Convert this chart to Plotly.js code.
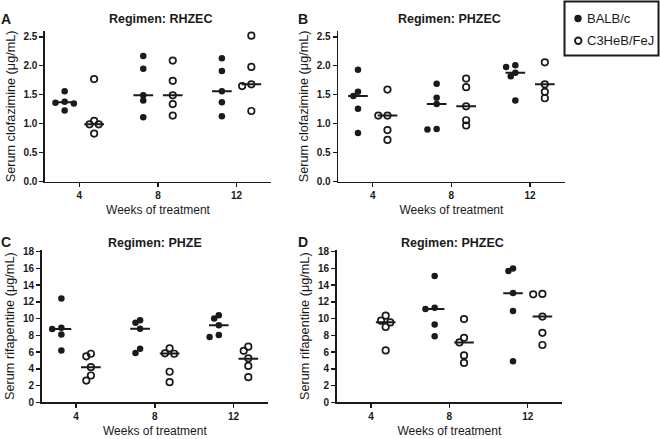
<!DOCTYPE html>
<html>
<head>
<meta charset="utf-8">
<script src="https://cdn.plot.ly/plotly-3.0.1.min.js"></script>
<style>html,body{margin:0;padding:0;background:#fff;}#chart{width:660px;height:439px;}</style>
</head>
<body>
<div id="chart"></div>
<script>
// ---------- data ----------
const weeks = [4, 8, 12];
const strainNames = ['BALB/c', 'C3HeB/FeJ'];

// Panel A: clofazimine, regimen RHZEC
const rhzecBalb = [[1.56, 1.38, 1.36, 1.35, 1.23], [2.17, 1.95, 1.49, 1.40, 1.11], [2.13, 1.91, 1.56, 1.37, 1.13]];
const rhzecC3   = [[1.77, 1.05, 0.99, 0.99, 0.83], [2.09, 1.74, 1.49, 1.34, 1.14], [2.52, 1.98, 1.68, 1.65, 1.22]];
const rhzecBalbMedian = [1.37, 1.49, 1.56];
const rhzecC3Median   = [0.99, 1.49, 1.68];

// Panel B: clofazimine, regimen PHZEC
const phzecClfBalb = [[1.93, 1.55, 1.48, 1.26, 0.84], [1.69, 1.45, 1.34, 0.91, 0.90], [2.01, 1.98, 1.88, 1.82, 1.40]];
const phzecClfC3   = [[1.59, 1.14, 1.14, 0.89, 0.72], [1.78, 1.63, 1.30, 1.06, 0.97], [2.06, 1.68, 1.55, 1.44]];
const phzecClfBalbMedian = [1.48, 1.34, 1.88];
const phzecClfC3Median   = [1.14, 1.30, 1.68];

// Panel C: rifapentine, regimen PHZE
const phzeBalb = [[12.4, 8.9, 8.76, 8.1, 6.2], [9.8, 9.5, 8.8, 6.4, 5.9], [10.4, 10.0, 9.2, 8.05, 7.8]];
const phzeC3   = [[5.8, 5.5, 4.2, 3.2, 2.6], [6.45, 5.85, 5.8, 3.65, 2.4], [6.65, 6.15, 5.25, 4.35, 3.0]];
const phzeBalbMedian = [8.76, 8.8, 9.2];
const phzeC3Median   = [4.2, 5.82, 5.2];

// Panel D: rifapentine, regimen PHZEC
const phzecRpfBalb = [[], [15.1, 11.3, 11.15, 9.3, 7.9], [16.0, 15.7, 13.05, 10.9, 4.9]];
const phzecRpfC3   = [[10.35, 9.75, 9.55, 9.0, 6.2], [9.95, 7.7, 7.15, 5.6, 4.7], [12.95, 12.9, 10.25, 8.3, 6.85]];
const phzecRpfBalbMedian = [null, 11.16, 13.04];
const phzecRpfC3Median   = [9.56, 7.16, 10.24];

// ---------- styling / layout ----------
const FONT = 'Liberation Sans, Arial, sans-serif';
const INK = '#1a1a1a';
const W = 660, H = 439;
const px = v => v / W;
const py = v => 1 - v / H;

const panels = [
  {letter: 'A', title: 'Regimen: RHZEC', ytitle: 'Serum clofazimine (μg/mL)', balb: rhzecBalb, c3: rhzecC3,
   balbMed: rhzecBalbMedian, c3Med: rhzecC3Median, xd: [45, 271], yd: [31, 181.7], yr: [0, 2.6], dtick: 0.5, fmt: '.1f',
   letterPos: [6.5, 18.5], titlePos: [160, 19]},
  {letter: 'B', title: 'Regimen: PHZEC', ytitle: 'Serum clofazimine (μg/mL)', balb: phzecClfBalb, c3: phzecClfC3,
   balbMed: phzecClfBalbMedian, c3Med: phzecClfC3Median, xd: [338.3, 564.5], yd: [31, 181.7], yr: [0, 2.6], dtick: 0.5, fmt: '.1f',
   letterPos: [303, 18.5], titlePos: [450, 19]},
  {letter: 'C', title: 'Regimen: PHZE', ytitle: 'Serum rifapentine (μg/mL)', balb: phzeBalb, c3: phzeC3,
   balbMed: phzeBalbMedian, c3Med: phzeC3Median, xd: [41.7, 268], yd: [250, 402.3], yr: [0, 18.2], dtick: 2, fmt: 'd',
   letterPos: [6.5, 242.5], titlePos: [155, 243]},
  {letter: 'D', title: 'Regimen: PHZEC', ytitle: 'Serum rifapentine (μg/mL)', balb: phzecRpfBalb, c3: phzecRpfC3,
   balbMed: phzecRpfBalbMedian, c3Med: phzecRpfC3Median, xd: [336.7, 562], yd: [250, 402.3], yr: [0, 18.2], dtick: 2, fmt: 'd',
   letterPos: [303, 242.5], titlePos: [452, 243]}
];

const XR = [2.25, 13.75];
const GROUP_OFFSET = 0.75;   // strains sit either side of each week
const MEDIAN_HALF = 0.5;

// simple beeswarm so overlapping points spread sideways (in pixels)
function swarm(vals, pxPerY, pxPerX) {
  const step = 4.6, minD = 5.2;
  const order = vals.map((v, i) => i).sort((a, b) => vals[b] - vals[a]);
  const placed = [];
  const off = new Array(vals.length).fill(0);
  order.forEach(i => {
    const yy = vals[i] * pxPerY;
    for (let k = 0; k < 30; k++) {
      const slot = k === 0 ? 0 : (k % 2 === 1 ? -Math.ceil(k / 2) : Math.ceil(k / 2));
      const xx = slot * step;
      if (placed.every(p => Math.hypot(p.x - xx, p.y - yy) >= minD)) {
        placed.push({x: xx, y: yy});
        off[i] = xx / pxPerX;
        break;
      }
    }
  });
  return off;
}

const traces = [];
const layout = {
  width: W, height: H,
  margin: {l: 0, r: 0, t: 0, b: 0},
  paper_bgcolor: '#fff', plot_bgcolor: '#fff',
  showlegend: false,
  font: {family: FONT, color: INK},
  annotations: [], shapes: []
};

panels.forEach((p, idx) => {
  const n = idx === 0 ? '' : String(idx + 1);
  const xa = 'x' + n, ya = 'y' + n;
  const pxPerX = (p.xd[1] - p.xd[0]) / (XR[1] - XR[0]);
  const pxPerY = (p.yd[1] - p.yd[0]) / (p.yr[1] - p.yr[0]);

  [[p.balb, p.balbMed, -1, 0], [p.c3, p.c3Med, 1, 1]].forEach(([groups, meds, side, s]) => {
    const xs = [], ys = [];
    const mx = [], my = [];
    groups.forEach((vals, w) => {
      const centre = weeks[w] + side * GROUP_OFFSET;
      const off = swarm(vals, pxPerY, pxPerX);
      vals.forEach((v, i) => { xs.push(centre + off[i]); ys.push(v); });
      if (meds[w] !== null && vals.length) {
        mx.push(centre - MEDIAN_HALF, centre + MEDIAN_HALF, null);
        my.push(meds[w], meds[w], null);
      }
    });
    traces.push({
      type: 'scatter', mode: 'lines', x: mx, y: my, xaxis: xa, yaxis: ya,
      line: {color: INK, width: 2}, hoverinfo: 'skip', name: strainNames[s] + ' median', showlegend: false
    });
    traces.push({
      type: 'scatter', mode: 'markers', x: xs, y: ys, xaxis: xa, yaxis: ya, name: strainNames[s],
      marker: s === 0
        ? {symbol: 'circle', size: 6.5, color: INK, line: {width: 0}}
        : {symbol: 'circle-open', size: 6.5, color: INK, line: {width: 1.7, color: INK}},
      showlegend: false
    });
  });

  const axisCommon = {
    showline: true, linecolor: INK, linewidth: 1.6, showgrid: false, zeroline: false,
    ticks: 'outside', ticklen: 4, tickwidth: 1.4, tickcolor: INK,
    tickfont: {family: FONT, size: 10, color: INK, weight: 'bold'}, fixedrange: true
  };
  layout['xaxis' + n] = Object.assign({}, axisCommon, {
    domain: [px(p.xd[0]), px(p.xd[1])], range: XR, tickvals: weeks, anchor: ya,
    title: {text: 'Weeks of treatment', font: {family: FONT, size: 12, color: INK}, standoff: 5}
  });
  layout['yaxis' + n] = Object.assign({}, axisCommon, {
    domain: [py(p.yd[1]), py(p.yd[0])], range: p.yr, dtick: p.dtick, tick0: 0, tickformat: p.fmt, anchor: xa,
    title: {text: p.ytitle, font: {family: FONT, size: 12.7, color: INK}, standoff: 5}
  });

  layout.annotations.push({
    xref: 'paper', yref: 'paper', x: px(p.letterPos[0]), y: py(p.letterPos[1]), xanchor: 'center', yanchor: 'middle',
    text: '<b>' + p.letter + '</b>', showarrow: false, font: {family: FONT, size: 14, color: INK}
  });
  layout.annotations.push({
    xref: 'paper', yref: 'paper', x: px(p.titlePos[0]), y: py(p.titlePos[1]), xanchor: 'center', yanchor: 'middle',
    text: '<b>' + p.title + '</b>', showarrow: false, font: {family: FONT, size: 12.5, color: INK}
  });
});

// legend box (drawn to match the reference's compact key)
layout.shapes.push({type: 'rect', xref: 'paper', yref: 'paper', x0: px(564.5), x1: px(658.5), y0: py(55.5), y1: py(1.5),
  line: {color: INK, width: 2}, fillcolor: 'rgba(0,0,0,0)'});
layout.shapes.push({type: 'circle', xref: 'paper', yref: 'paper', x0: px(574.3), x1: px(581.7), y0: py(22.2), y1: py(14.8),
  line: {color: INK, width: 0}, fillcolor: INK});
layout.shapes.push({type: 'circle', xref: 'paper', yref: 'paper', x0: px(575), x1: px(581.5), y0: py(44), y1: py(37.5),
  line: {color: INK, width: 1.9}, fillcolor: 'rgba(0,0,0,0)'});
[[strainNames[0], 18.5], [strainNames[1], 40.7]].forEach(([t, y]) => {
  layout.annotations.push({xref: 'paper', yref: 'paper', x: px(585), y: py(y), xanchor: 'left', yanchor: 'middle',
    text: t, showarrow: false, font: {family: FONT, size: 13, color: INK}});
});

Plotly.newPlot('chart', traces, layout, {displayModeBar: false, staticPlot: true});
</script>
</body>
</html>
